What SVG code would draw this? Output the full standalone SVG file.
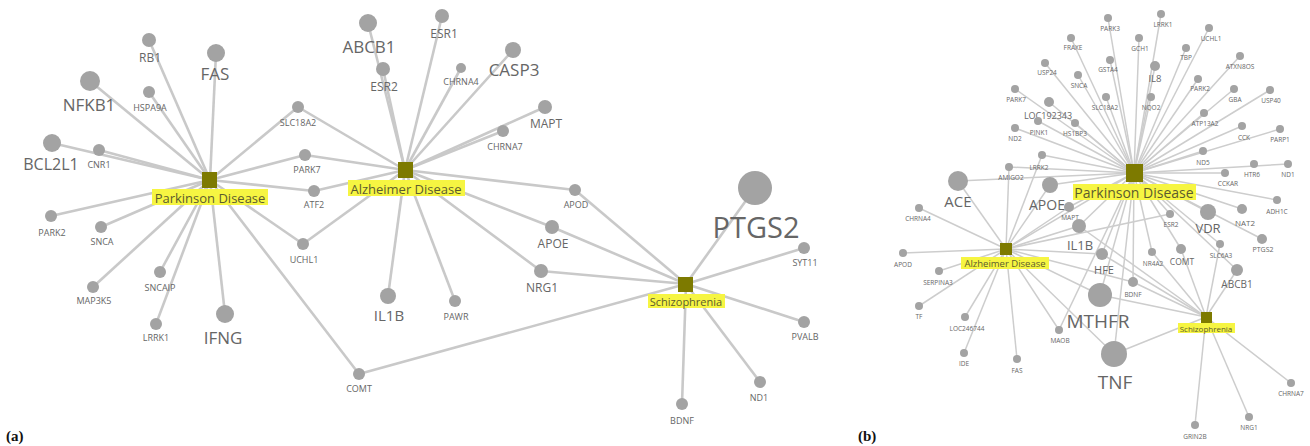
<svg xmlns="http://www.w3.org/2000/svg" width="1310" height="446" viewBox="0 0 1310 446">
<style>
text{font-family:"Open Sans","Liberation Sans",sans-serif;fill:#666;text-anchor:middle;dominant-baseline:central}
.ea line{stroke:#c9c9c9;stroke-width:2.6}
.eb line{stroke:#cdcdcd;stroke-width:1.5}
circle{fill:#a3a3a3}
.hub{fill:#7d7a00}
.hl{fill:#f6f542}
text.h{fill:#5b5b2e}
.s{font-size:9px}
.sb{font-size:6.5px}
.pl{font-family:"Liberation Serif",serif;font-weight:bold;font-size:15px;fill:#111;text-anchor:start;dominant-baseline:auto}
</style>
<rect width="1310" height="446" fill="#fff"/>
<g id="connectors">
<g class="ea">
<line x1="210" y1="180" x2="149" y2="40"/><line x1="210" y1="180" x2="216" y2="53"/><line x1="210" y1="180" x2="90" y2="81"/><line x1="210" y1="180" x2="149" y2="92"/><line x1="210" y1="180" x2="298" y2="107"/><line x1="210" y1="180" x2="52" y2="143"/><line x1="210" y1="180" x2="99" y2="150"/><line x1="210" y1="180" x2="305" y2="155"/><line x1="210" y1="180" x2="314" y2="191"/><line x1="210" y1="180" x2="51" y2="216"/><line x1="210" y1="180" x2="101" y2="227"/><line x1="210" y1="180" x2="303" y2="244"/><line x1="210" y1="180" x2="160" y2="272"/><line x1="210" y1="180" x2="93" y2="287"/><line x1="210" y1="180" x2="156" y2="324"/><line x1="210" y1="180" x2="225" y2="314"/><line x1="210" y1="180" x2="359" y2="374"/>
<line x1="405" y1="170" x2="298" y2="107"/><line x1="405" y1="170" x2="305" y2="155"/><line x1="405" y1="170" x2="314" y2="191"/><line x1="405" y1="170" x2="303" y2="244"/><line x1="405" y1="170" x2="368" y2="23"/><line x1="405" y1="170" x2="383" y2="69"/><line x1="405" y1="170" x2="442" y2="16"/><line x1="405" y1="170" x2="461" y2="68"/><line x1="405" y1="170" x2="513" y2="50"/><line x1="405" y1="170" x2="545" y2="107"/><line x1="405" y1="170" x2="503" y2="131"/><line x1="405" y1="170" x2="575" y2="190"/><line x1="405" y1="170" x2="552" y2="227"/><line x1="405" y1="170" x2="541" y2="271"/><line x1="405" y1="170" x2="388" y2="296"/><line x1="405" y1="170" x2="455" y2="301"/>
<line x1="686" y1="284" x2="575" y2="190"/><line x1="686" y1="284" x2="552" y2="227"/><line x1="686" y1="284" x2="541" y2="271"/><line x1="686" y1="284" x2="359" y2="374"/><line x1="686" y1="284" x2="755" y2="188"/><line x1="686" y1="284" x2="804" y2="248"/><line x1="686" y1="284" x2="804" y2="322"/><line x1="686" y1="284" x2="760" y2="382"/><line x1="686" y1="284" x2="682" y2="404"/>
</g>
<g class="eb">
<line x1="1134" y1="173" x2="1108" y2="18"/><line x1="1134" y1="173" x2="1161" y2="14"/><line x1="1134" y1="173" x2="1139" y2="38"/><line x1="1134" y1="173" x2="1209" y2="28"/><line x1="1134" y1="173" x2="1071" y2="38"/><line x1="1134" y1="173" x2="1110" y2="60"/><line x1="1134" y1="173" x2="1155" y2="66"/><line x1="1134" y1="173" x2="1186" y2="48"/><line x1="1134" y1="173" x2="1240" y2="56"/><line x1="1134" y1="173" x2="1045" y2="63"/><line x1="1134" y1="173" x2="1078" y2="75"/><line x1="1134" y1="173" x2="1015" y2="89"/><line x1="1134" y1="173" x2="1106" y2="97"/><line x1="1134" y1="173" x2="1151" y2="97"/><line x1="1134" y1="173" x2="1198" y2="79"/><line x1="1134" y1="173" x2="1234" y2="89"/><line x1="1134" y1="173" x2="1270" y2="90"/><line x1="1134" y1="173" x2="1049" y2="102"/><line x1="1134" y1="173" x2="1038" y2="121"/><line x1="1134" y1="173" x2="1075" y2="123"/><line x1="1134" y1="173" x2="1015" y2="128"/><line x1="1134" y1="173" x2="1204" y2="113"/><line x1="1134" y1="173" x2="1242" y2="126"/><line x1="1134" y1="173" x2="1280" y2="129"/><line x1="1134" y1="173" x2="1203" y2="151"/><line x1="1134" y1="173" x2="1042" y2="155"/><line x1="1134" y1="173" x2="1009" y2="167"/><line x1="1134" y1="173" x2="1288" y2="164"/><line x1="1134" y1="173" x2="1225" y2="173"/><line x1="1134" y1="173" x2="958" y2="181"/><line x1="1134" y1="173" x2="1050" y2="185"/><line x1="1134" y1="173" x2="1069" y2="207"/><line x1="1134" y1="173" x2="1277" y2="200"/><line x1="1134" y1="173" x2="1242" y2="209"/><line x1="1134" y1="173" x2="1208" y2="212"/><line x1="1134" y1="173" x2="1262" y2="239"/><line x1="1134" y1="173" x2="1170" y2="214"/><line x1="1134" y1="173" x2="1220" y2="244"/><line x1="1134" y1="173" x2="1079" y2="226"/><line x1="1134" y1="173" x2="1181" y2="249"/><line x1="1134" y1="173" x2="1152" y2="252"/><line x1="1134" y1="173" x2="1102" y2="254"/><line x1="1134" y1="173" x2="1237" y2="270"/><line x1="1134" y1="173" x2="1133" y2="282"/><line x1="1134" y1="173" x2="1100" y2="295"/><line x1="1134" y1="173" x2="1114" y2="354"/><line x1="1134" y1="173" x2="1059" y2="330"/>
<line x1="1006" y1="249" x2="958" y2="181"/><line x1="1006" y1="249" x2="1009" y2="167"/><line x1="1006" y1="249" x2="1042" y2="155"/><line x1="1006" y1="249" x2="919" y2="208"/><line x1="1006" y1="249" x2="903" y2="253"/><line x1="1006" y1="249" x2="939" y2="271"/><line x1="1006" y1="249" x2="919" y2="306"/><line x1="1006" y1="249" x2="965" y2="317"/><line x1="1006" y1="249" x2="964" y2="353"/><line x1="1006" y1="249" x2="1017" y2="359"/><line x1="1006" y1="249" x2="1059" y2="330"/><line x1="1006" y1="249" x2="1050" y2="185"/><line x1="1006" y1="249" x2="1069" y2="207"/><line x1="1006" y1="249" x2="1079" y2="226"/><line x1="1006" y1="249" x2="1102" y2="254"/><line x1="1006" y1="249" x2="1100" y2="295"/><line x1="1006" y1="249" x2="1114" y2="354"/><line x1="1006" y1="249" x2="1133" y2="282"/><line x1="1006" y1="249" x2="1134" y2="173"/><line x1="1006" y1="249" x2="1170" y2="214"/>
<line x1="1206" y1="317" x2="1291" y2="383"/><line x1="1206" y1="317" x2="1249" y2="417"/><line x1="1206" y1="317" x2="1195" y2="425"/><line x1="1206" y1="317" x2="1114" y2="354"/><line x1="1206" y1="317" x2="1100" y2="295"/><line x1="1206" y1="317" x2="1133" y2="282"/><line x1="1206" y1="317" x2="1181" y2="249"/><line x1="1206" y1="317" x2="1220" y2="244"/><line x1="1206" y1="317" x2="1237" y2="270"/><line x1="1206" y1="317" x2="1079" y2="226"/><line x1="1206" y1="317" x2="1102" y2="254"/><line x1="1206" y1="317" x2="1152" y2="252"/>
</g>
</g>

<!-- Panel (a) hubs -->
<g id="a-parkinson"><rect class="hub" x="202" y="172" width="15" height="16"/><rect class="hl" x="152" y="189" width="116" height="16"/><text class="h" x="210" y="197.5" font-size="13">Parkinson Disease</text></g>
<g id="a-alzheimer"><rect class="hub" x="398" y="162" width="15" height="16"/><rect class="hl" x="348" y="180" width="117" height="16"/><text class="h" x="406" y="188.5" font-size="13">Alzheimer Disease</text></g>
<g id="a-schizophrenia"><rect class="hub" x="678" y="277" width="15" height="15"/><rect class="hl" x="648" y="294" width="77" height="14"/><text class="h" x="686" y="301" font-size="11">Schizophrenia</text></g>

<!-- Panel (a) genes -->
<g id="a-RB1"><circle cx="149" cy="40" r="7"/><text x="150" y="57" font-size="12">RB1</text></g>
<g id="a-FAS"><circle cx="216" cy="53" r="9"/><text x="215" y="73" font-size="17">FAS</text></g>
<g id="a-NFKB1"><circle cx="90" cy="81" r="10"/><text x="89" y="104" font-size="17">NFKB1</text></g>
<g id="a-HSPA9A"><circle cx="149" cy="92" r="6"/><text class="s" x="150" y="107">HSPA9A</text></g>
<g id="a-SLC18A2"><circle cx="298" cy="107" r="6"/><text class="s" x="298" y="122">SLC18A2</text></g>
<g id="a-BCL2L1"><circle cx="52" cy="143" r="9"/><text x="51" y="164" font-size="16">BCL2L1</text></g>
<g id="a-CNR1"><circle cx="99" cy="150" r="6"/><text class="s" x="99" y="164">CNR1</text></g>
<g id="a-PARK7"><circle cx="305" cy="155" r="6"/><text class="s" x="307" y="169">PARK7</text></g>
<g id="a-ATF2"><circle cx="314" cy="191" r="6"/><text class="s" x="314" y="204">ATF2</text></g>
<g id="a-PARK2"><circle cx="51" cy="216" r="6"/><text class="s" x="52" y="232">PARK2</text></g>
<g id="a-SNCA"><circle cx="101" cy="227" r="6"/><text class="s" x="102" y="241">SNCA</text></g>
<g id="a-UCHL1"><circle cx="303" cy="244" r="6"/><text class="s" x="304" y="259">UCHL1</text></g>
<g id="a-SNCAIP"><circle cx="160" cy="272" r="6"/><text class="s" x="160" y="287">SNCAIP</text></g>
<g id="a-MAP3K5"><circle cx="93" cy="287" r="6"/><text class="s" x="94" y="300">MAP3K5</text></g>
<g id="a-LRRK1"><circle cx="156" cy="324" r="6"/><text class="s" x="156" y="337">LRRK1</text></g>
<g id="a-IFNG"><circle cx="225" cy="314" r="9"/><text x="223" y="337" font-size="17">IFNG</text></g>
<g id="a-COMT"><circle cx="359" cy="374" r="6"/><text class="s" x="359" y="388">COMT</text></g>
<g id="a-ABCB1"><circle cx="368" cy="23" r="9"/><text x="369" y="46" font-size="17">ABCB1</text></g>
<g id="a-ESR1"><circle cx="442" cy="16" r="7"/><text x="444" y="33" font-size="12">ESR1</text></g>
<g id="a-ESR2"><circle cx="383" cy="69" r="7"/><text x="384" y="86" font-size="12">ESR2</text></g>
<g id="a-CHRNA4"><circle cx="461" cy="68" r="5"/><text class="s" x="461" y="81">CHRNA4</text></g>
<g id="a-CASP3"><circle cx="513" cy="50" r="8"/><text x="514" y="69" font-size="17">CASP3</text></g>
<g id="a-MAPT"><circle cx="545" cy="107" r="7"/><text x="546" y="123" font-size="12">MAPT</text></g>
<g id="a-CHRNA7"><circle cx="503" cy="131" r="6"/><text class="s" x="505" y="146">CHRNA7</text></g>
<g id="a-APOD"><circle cx="575" cy="190" r="6"/><text class="s" x="576" y="204">APOD</text></g>
<g id="a-APOE"><circle cx="552" cy="227" r="7"/><text x="553" y="243" font-size="12">APOE</text></g>
<g id="a-NRG1"><circle cx="541" cy="271" r="7"/><text x="542" y="287" font-size="12">NRG1</text></g>
<g id="a-IL1B"><circle cx="388" cy="296" r="8"/><text x="389" y="315" font-size="15">IL1B</text></g>
<g id="a-PAWR"><circle cx="455" cy="301" r="6"/><text class="s" x="456" y="316">PAWR</text></g>
<g id="a-PTGS2"><circle cx="755" cy="188" r="17"/><text x="756" y="226" font-size="29">PTGS2</text></g>
<g id="a-SYT11"><circle cx="804" cy="248" r="6"/><text class="s" x="805" y="262">SYT11</text></g>
<g id="a-PVALB"><circle cx="804" cy="322" r="6"/><text class="s" x="805" y="336">PVALB</text></g>
<g id="a-ND1"><circle cx="760" cy="382" r="6"/><text class="s" x="759" y="397">ND1</text></g>
<g id="a-BDNF"><circle cx="682" cy="404" r="6"/><text class="s" x="682" y="420">BDNF</text></g>

<!-- Panel (b) hubs -->
<g id="b-parkinson"><rect class="hub" x="1126" y="164" width="17" height="18"/><rect class="hl" x="1073" y="184" width="123" height="16"/><text class="h" x="1134" y="192.5" font-size="14">Parkinson Disease</text></g>
<g id="b-alzheimer"><rect class="hub" x="1000" y="243" width="12" height="12"/><rect class="hl" x="961" y="257" width="88" height="12"/><text class="h" x="1005" y="263.5" font-size="9.5">Alzheimer Disease</text></g>
<g id="b-schizophrenia"><rect class="hub" x="1201" y="312" width="11" height="11"/><rect class="hl" x="1178" y="323" width="57" height="10"/><text class="h" x="1206" y="328.5" font-size="8">Schizophrenia</text></g>

<!-- Panel (b) genes -->
<g id="b-PARK3"><circle cx="1108" cy="18" r="4"/><text class="sb" x="1110" y="28">PARK3</text></g>
<g id="b-LRRK1"><circle cx="1161" cy="14" r="4"/><text class="sb" x="1163" y="24">LRRK1</text></g>
<g id="b-GCH1"><circle cx="1139" cy="38" r="4"/><text class="sb" x="1140" y="48">GCH1</text></g>
<g id="b-UCHL1"><circle cx="1209" cy="28" r="4"/><text class="sb" x="1211" y="38">UCHL1</text></g>
<g id="b-FRAXE"><circle cx="1071" cy="38" r="4"/><text class="sb" x="1073" y="47">FRAXE</text></g>
<g id="b-GSTA4"><circle cx="1110" cy="60" r="4"/><text class="sb" x="1108" y="69">GSTA4</text></g>
<g id="b-IL8"><circle cx="1155" cy="66" r="5"/><text x="1155" y="78" font-size="9.5">IL8</text></g>
<g id="b-TBP"><circle cx="1186" cy="48" r="4"/><text class="sb" x="1186" y="57">TBP</text></g>
<g id="b-ATXN8OS"><circle cx="1240" cy="56" r="4"/><text class="sb" x="1240" y="66">ATXN8OS</text></g>
<g id="b-USP24"><circle cx="1045" cy="63" r="4"/><text class="sb" x="1047" y="72">USP24</text></g>
<g id="b-SNCA"><circle cx="1078" cy="75" r="4"/><text class="sb" x="1079" y="85">SNCA</text></g>
<g id="b-PARK7"><circle cx="1015" cy="89" r="4"/><text class="sb" x="1016" y="99">PARK7</text></g>
<g id="b-SLC18A2"><circle cx="1106" cy="97" r="4"/><text class="sb" x="1105" y="107">SLC18A2</text></g>
<g id="b-NQO2"><circle cx="1151" cy="97" r="4"/><text class="sb" x="1151" y="107">NQO2</text></g>
<g id="b-PARK2"><circle cx="1198" cy="79" r="4"/><text class="sb" x="1200" y="88">PARK2</text></g>
<g id="b-GBA"><circle cx="1234" cy="89" r="4"/><text class="sb" x="1235" y="99">GBA</text></g>
<g id="b-USP40"><circle cx="1270" cy="90" r="4"/><text class="sb" x="1271" y="100">USP40</text></g>
<g id="b-LOC192343"><circle cx="1049" cy="102" r="5"/><text x="1048" y="115" font-size="9">LOC192343</text></g>
<g id="b-PINK1"><circle cx="1038" cy="121" r="4"/><text class="sb" x="1039" y="132">PINK1</text></g>
<g id="b-HS1BP3"><circle cx="1075" cy="123" r="4"/><text class="sb" x="1075" y="133">HS1BP3</text></g>
<g id="b-ND2"><circle cx="1015" cy="128" r="4"/><text class="sb" x="1015" y="138">ND2</text></g>
<g id="b-ATP13A2"><circle cx="1204" cy="113" r="4"/><text class="sb" x="1205" y="123">ATP13A2</text></g>
<g id="b-CCK"><circle cx="1242" cy="126" r="4"/><text class="sb" x="1244" y="137">CCK</text></g>
<g id="b-PARP1"><circle cx="1280" cy="129" r="4"/><text class="sb" x="1280" y="139">PARP1</text></g>
<g id="b-ND5"><circle cx="1203" cy="151" r="4"/><text class="sb" x="1203" y="162">ND5</text></g>
<g id="b-LRRK2"><circle cx="1042" cy="155" r="4"/><text class="sb" x="1039" y="167">LRRK2</text></g>
<g id="b-AMIGO2"><circle cx="1009" cy="167" r="4"/><text class="sb" x="1011" y="177">AMIGO2</text></g>
<g id="b-HTR6"><circle cx="1254" cy="164" r="4"/><text class="sb" x="1252" y="174">HTR6</text></g>
<g id="b-ND1"><circle cx="1288" cy="164" r="4"/><text class="sb" x="1288" y="174">ND1</text></g>
<g id="b-CCKAR"><circle cx="1225" cy="173" r="4"/><text class="sb" x="1228" y="183">CCKAR</text></g>
<g id="b-ACE"><circle cx="958" cy="181" r="10"/><text x="958" y="201" font-size="15">ACE</text></g>
<g id="b-APOE"><circle cx="1050" cy="185" r="8"/><text x="1047" y="204" font-size="14">APOE</text></g>
<g id="b-MAPT"><circle cx="1069" cy="207" r="5"/><text class="sb" x="1070" y="217">MAPT</text></g>
<g id="b-ADH1C"><circle cx="1277" cy="200" r="4"/><text class="sb" x="1277" y="211">ADH1C</text></g>
<g id="b-NAT2"><circle cx="1242" cy="209" r="5"/><text x="1245" y="222" font-size="8">NAT2</text></g>
<g id="b-VDR"><circle cx="1208" cy="212" r="8"/><text x="1208" y="228" font-size="13">VDR</text></g>
<g id="b-PTGS2"><circle cx="1262" cy="239" r="5"/><text x="1263" y="249" font-size="7">PTGS2</text></g>
<g id="b-ESR2"><circle cx="1170" cy="214" r="4"/><text class="sb" x="1171" y="224">ESR2</text></g>
<g id="b-SLC6A3"><circle cx="1220" cy="244" r="4"/><text class="sb" x="1221" y="255">SLC6A3</text></g>
<g id="b-IL1B"><circle cx="1079" cy="226" r="7"/><text x="1080" y="245" font-size="13">IL1B</text></g>
<g id="b-COMT"><circle cx="1181" cy="249" r="5"/><text x="1182" y="261" font-size="8.5">COMT</text></g>
<g id="b-NR4A2"><circle cx="1152" cy="252" r="4"/><text class="sb" x="1153" y="263">NR4A2</text></g>
<g id="b-HFE"><circle cx="1102" cy="254" r="6"/><text x="1104" y="269" font-size="11">HFE</text></g>
<g id="b-ABCB1"><circle cx="1237" cy="270" r="6"/><text x="1237" y="284" font-size="10">ABCB1</text></g>
<g id="b-BDNF"><circle cx="1133" cy="282" r="5"/><text class="sb" x="1133" y="294">BDNF</text></g>
<g id="b-MTHFR"><circle cx="1100" cy="295" r="12"/><text x="1098" y="321" font-size="19">MTHFR</text></g>
<g id="b-TNF"><circle cx="1114" cy="354" r="13"/><text x="1115" y="382" font-size="19">TNF</text></g>
<g id="b-CHRNA4"><circle cx="919" cy="208" r="4"/><text class="sb" x="918" y="218">CHRNA4</text></g>
<g id="b-APOD"><circle cx="903" cy="253" r="4"/><text class="sb" x="903" y="264">APOD</text></g>
<g id="b-SERPINA3"><circle cx="939" cy="271" r="4"/><text class="sb" x="938" y="282">SERPINA3</text></g>
<g id="b-TF"><circle cx="919" cy="306" r="4"/><text class="sb" x="919" y="316">TF</text></g>
<g id="b-LOC246744"><circle cx="965" cy="317" r="4"/><text class="sb" x="967" y="328">LOC246744</text></g>
<g id="b-IDE"><circle cx="964" cy="353" r="4"/><text class="sb" x="964" y="363">IDE</text></g>
<g id="b-FAS"><circle cx="1017" cy="359" r="4"/><text class="sb" x="1017" y="370">FAS</text></g>
<g id="b-MAOB"><circle cx="1059" cy="330" r="4"/><text class="sb" x="1060" y="340">MAOB</text></g>
<g id="b-CHRNA7"><circle cx="1291" cy="383" r="4"/><text class="sb" x="1291" y="393">CHRNA7</text></g>
<g id="b-NRG1"><circle cx="1249" cy="417" r="4"/><text class="sb" x="1249" y="427">NRG1</text></g>
<g id="b-GRIN2B"><circle cx="1195" cy="425" r="4"/><text class="sb" x="1195" y="436">GRIN2B</text></g>

<text class="pl" x="6" y="441">(a)</text>
<text class="pl" x="858" y="441">(b)</text>
</svg>
